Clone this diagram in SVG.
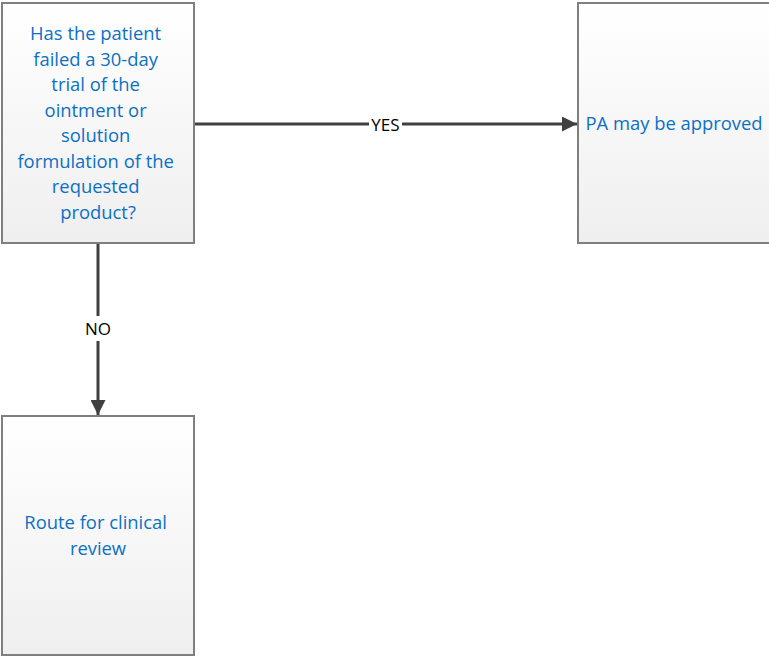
<svg xmlns="http://www.w3.org/2000/svg" width="769" height="656" viewBox="0 0 769 656">
  <defs>
    <linearGradient id="boxFill" x1="0" y1="0" x2="0" y2="1">
      <stop offset="0" stop-color="#ffffff"/>
      <stop offset="1" stop-color="#efefef"/>
    </linearGradient>
    <marker id="arrow" viewBox="0 0 10 10" refX="10" refY="5" markerWidth="5.2" markerHeight="5" markerUnits="strokeWidth" orient="auto">
      <path d="M0,0 L10,5 L0,10 Z" fill="#404040"/>
    </marker>
  </defs>
  <style>
    .box { fill: url(#boxFill); stroke: #7f7f7f; stroke-width: 2; }
    .label { font-family: "Open Sans", "Liberation Sans", sans-serif; font-size: 18.4px; fill: #0b70c4; text-anchor: middle; }
    .edge { stroke: #404040; stroke-width: 3; fill: none; }
    .edge-label { font-family: "Open Sans", "Liberation Sans", sans-serif; font-size: 17px; fill: #000000; text-anchor: middle; }
    .label-bg { fill: #ffffff; }
  </style>

  <g id="connectors">
    <g id="edge-yes">
      <line class="edge" x1="194" y1="124" x2="577" y2="124" marker-end="url(#arrow)"/>
      <rect class="label-bg" x="369" y="113" width="33" height="22"/>
      <text class="edge-label" x="385.5" y="130.5">YES</text>
    </g>
    <g id="edge-no">
      <line class="edge" x1="98" y1="243" x2="98" y2="415" marker-end="url(#arrow)"/>
      <rect class="label-bg" x="82" y="316" width="32" height="25"/>
      <text class="edge-label" x="98" y="335">NO</text>
    </g>
  </g>

  <g id="node-question">
    <rect class="box" x="2" y="3" width="192" height="240"/>
    <text class="label">
      <tspan x="98" y="40">Has the patient</tspan>
      <tspan x="98" y="65.5">failed a 30-day</tspan>
      <tspan x="98" y="91">trial of the</tspan>
      <tspan x="98" y="116.5">ointment or</tspan>
      <tspan x="98" y="142">solution</tspan>
      <tspan x="98" y="167.5">formulation of the</tspan>
      <tspan x="98" y="193">requested</tspan>
      <tspan x="98" y="218.5">product?</tspan>
    </text>
  </g>

  <g id="node-approved">
    <rect class="box" x="578" y="3" width="194" height="240"/>
    <text class="label" x="674" y="130">PA may be approved</text>
  </g>

  <g id="node-review">
    <rect class="box" x="2" y="416" width="192" height="239"/>
    <text class="label">
      <tspan x="98" y="529">Route for clinical</tspan>
      <tspan x="98" y="554.5">review</tspan>
    </text>
  </g>
</svg>
